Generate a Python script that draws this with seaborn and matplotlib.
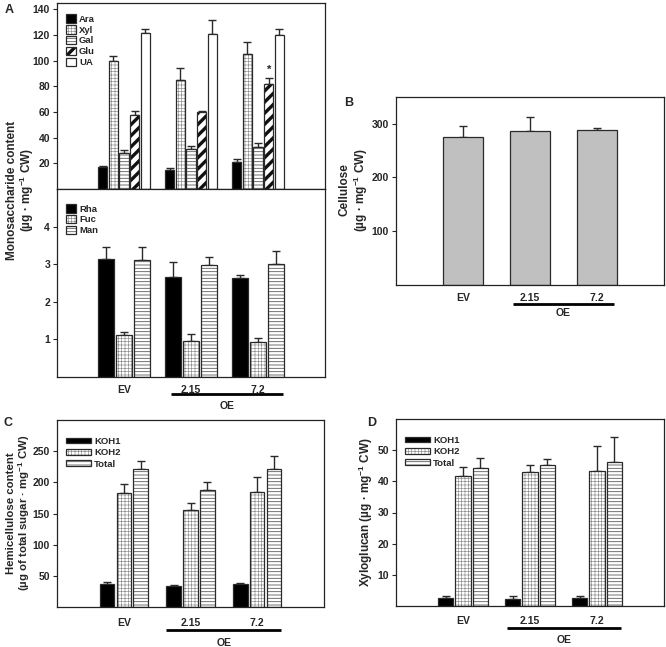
import numpy as np
import pandas as pd
import matplotlib
matplotlib.use("Agg")
import matplotlib.pyplot as plt
import matplotlib.patches as mpatches
import matplotlib.transforms as mtrans
import matplotlib.colors as mcolors
import seaborn as sns

# ---------------- data ----------------
lines = ["EV", "2.15", "7.2"]

major_sugars = ["Ara", "Xyl", "Gal", "Glu", "UA"]
ara_mean = [16.9, 14.9, 21.0]
ara_err = [1.3, 1.3, 2.0]
xyl_mean = [99.5, 85.0, 105.4]
xyl_err = [4.3, 9.0, 9.2]
gal_mean = [27.7, 30.8, 32.8]
gal_err = [2.6, 2.8, 3.4]
glu_mean = [58.0, 60.3, 82.0]
glu_err = [3.0, 0.3, 4.7]
ua_mean = [121.3, 120.8, 120.0]
ua_err = [3.8, 10.7, 5.0]

minor_sugars = ["Rha", "Fuc", "Man"]
rha_mean = [3.15, 2.67, 2.63]
rha_err = [0.30, 0.38, 0.07]
fuc_mean = [1.11, 0.95, 0.92]
fuc_err = [0.09, 0.20, 0.12]
man_mean = [3.12, 2.97, 3.01]
man_err = [0.34, 0.21, 0.34]

cellulose_mean = [276, 286, 288]
cellulose_err = [20, 26, 5]

fractions = ["KOH1", "KOH2", "Total"]
hemi_koh1 = [37.5, 33.0, 37.0]
hemi_koh1_err = [2.5, 3.0, 2.0]
hemi_koh2 = [183, 155, 184]
hemi_koh2_err = [15, 12, 25]
hemi_total = [221, 188, 221]
hemi_total_err = [14, 12, 22]

xg_koh1 = [2.7, 2.2, 2.7]
xg_koh1_err = [0.5, 1.1, 0.4]
xg_koh2 = [41.6, 43.0, 43.3]
xg_koh2_err = [3.0, 2.2, 8.1]
xg_total = [44.4, 45.4, 46.1]
xg_total_err = [3.0, 1.7, 8.0]

# ---------------- style ----------------
sns.set_style("ticks")
plt.rcParams["font.family"] = ["Liberation Sans", "DejaVu Sans"]
plt.rcParams["font.weight"] = "bold"
plt.rcParams["axes.labelweight"] = "bold"
plt.rcParams["mathtext.fontset"] = "custom"
plt.rcParams["mathtext.rm"] = "Liberation Sans:bold"
plt.rcParams["mathtext.bf"] = "Liberation Sans:bold"
plt.rcParams["hatch.linewidth"] = 0.5
plt.rcParams["axes.linewidth"] = 0.9
plt.rcParams["axes.edgecolor"] = "#222222"

EDGE = "#2a2a2a"
TICK_FS = 7.5
LAB_FS = 8.5

styles = {
    "black": dict(fc="black", hatch=None, hlw=None, hc=None),
    "dots": dict(fc="white", hatch="+++++", hlw=0.45, hc="#8a8a8a"),
    "hlines": dict(fc="white", hatch="-----", hlw=0.6, hc="#5a5a5a"),
    "diag": dict(fc="white", hatch="///", hlw=2.4, hc="#111111"),
    "white": dict(fc="white", hatch=None, hlw=None, hc=None),
}


def apply_hatch(p, s):
    if not s["hatch"]:
        return
    p.set_hatch(s["hatch"])
    if s["hlw"] is not None and hasattr(p, "set_hatch_linewidth"):
        p.set_hatch_linewidth(s["hlw"])
    if s["hc"] is not None:
        if hasattr(p, "set_hatchcolor"):
            p.set_hatchcolor(s["hc"])
        else:
            p._hatch_color = mcolors.to_rgba(s["hc"])


def style_bar(b, st):
    s = styles[st]
    b.set_facecolor(s["fc"])
    b.set_edgecolor(EDGE)
    b.set_linewidth(0.9)
    apply_hatch(b, s)


def add_err(ax, container, errs):
    xs = [b.get_x() + b.get_width() / 2 for b in container]
    ys = [b.get_height() for b in container]
    ax.errorbar(xs, ys, yerr=[np.zeros(len(errs)), errs], fmt="none",
                ecolor=EDGE, elinewidth=1.0, capsize=2.8, capthick=1.0,
                zorder=1)


def grouped(ax, names, means, errs, sty, width, gap):
    df = pd.DataFrame({
        "line": np.repeat([lines], len(names), axis=0).ravel(),
        "group": np.repeat(names, len(lines)),
        "value": np.concatenate(means),
    })
    sns.barplot(data=df, x="line", y="value", hue="group", order=lines,
                hue_order=names, width=width, gap=gap, errorbar=None,
                palette=["white"] * len(names), legend=False, ax=ax,
                zorder=2)
    for cont, st, er in zip(ax.containers, sty, errs):
        for b in cont:
            style_bar(b, st)
        add_err(ax, cont, er)


def legend(ax, names, sty, hl, hh, bbox, fs=6.8, spacing=0.25):
    hs = []
    for n, st in zip(names, sty):
        s = styles[st]
        p = mpatches.Patch(facecolor=s["fc"], edgecolor=EDGE,
                           linewidth=0.9, label=n)
        apply_hatch(p, s)
        hs.append(p)
    lg = ax.legend(handles=hs, loc="upper left", bbox_to_anchor=bbox,
                   frameon=False, handlelength=hl, handleheight=hh,
                   handletextpad=0.35, labelspacing=spacing,
                   prop=dict(size=fs, weight="bold"), borderaxespad=0)
    for h, st in zip(lg.legend_handles, sty):
        apply_hatch(h, styles[st])
    return lg


def common(ax, ylim, yticks):
    ax.set_xlim(-1, 3)
    ax.set_ylim(*ylim)
    ax.set_yticks(yticks)
    ax.set_yticklabels([str(t) for t in yticks], fontsize=TICK_FS,
                       fontweight="bold")
    ax.tick_params(axis="y", direction="out", length=3, width=0.8, pad=2)
    ax.tick_params(axis="x", length=0)
    ax.set_xlabel("")
    ax.set_ylabel("")
    for sp in ax.spines.values():
        sp.set_visible(True)
        sp.set_color("#222222")


def xlabels(ax, pad, line_y, x0, x1, oe_y):
    ax.set_xticks([0, 1, 2])
    ax.set_xticklabels(lines, fontsize=TICK_FS, fontweight="bold")
    ax.tick_params(axis="x", length=0, pad=pad)
    tr = mtrans.blended_transform_factory(ax.transData, ax.transAxes)
    ax.plot([x0, x1], [line_y, line_y], color="black", lw=2.0,
            transform=tr, clip_on=False, solid_capstyle="butt")
    ax.text((x0 + x1) / 2 + 0.0, oe_y, "OE", transform=tr, ha="center",
            va="center", fontsize=TICK_FS, fontweight="bold")


fig = plt.figure(figsize=(6.66, 6.47), dpi=100)
W, H = 666.0, 647.0


def axes_px(l, t, r, b):
    return fig.add_axes([l / W, 1 - b / H, (r - l) / W, (b - t) / H])


# ---------------- Panel A ----------------
axA1 = axes_px(57, 3, 325, 189)
axA2 = axes_px(57, 189, 325, 377)

grouped(axA1, major_sugars,
        [ara_mean, xyl_mean, gal_mean, glu_mean, ua_mean],
        [ara_err, xyl_err, gal_err, glu_err, ua_err],
        ["black", "dots", "hlines", "diag", "white"], 0.8, 0.15)
common(axA1, (0, 145), [20, 40, 60, 80, 100, 120, 140])
axA1.set_xticks([])
legend(axA1, major_sugars, ["black", "dots", "hlines", "diag", "white"],
       1.0, 1.0, (0.02, 0.96), fs=6.8, spacing=0.15)
# significance star above 7.2 Glu
glu_cont = axA1.containers[3]
b = glu_cont[2]
axA1.text(b.get_x() + b.get_width() / 2, glu_mean[2] + glu_err[2] + 2.0,
          "*", ha="center", va="bottom", fontsize=8, fontweight="bold")

grouped(axA2, minor_sugars, [rha_mean, fuc_mean, man_mean],
        [rha_err, fuc_err, man_err], ["black", "dots", "hlines"], 0.8, 0.12)
common(axA2, (0, 5), [1, 2, 3, 4])
legend(axA2, minor_sugars, ["black", "dots", "hlines"], 1.0, 1.0,
       (0.02, 0.94), fs=6.8, spacing=0.15)
xlabels(axA2, 6, -0.092, 0.70, 2.38, -0.152)

fig.text(12 / W, 1 - 190 / H, "Monosaccharide content", rotation=90,
         ha="center", va="center", fontsize=LAB_FS, fontweight="bold")
fig.text(27 / W, 1 - 190 / H, r"(µg · mg$^{-1}$ CW)", rotation=90,
         ha="center", va="center", fontsize=LAB_FS, fontweight="bold")
fig.text(5 / W, 1 - 10 / H, "A", ha="left", va="center", fontsize=9,
         fontweight="bold")

# ---------------- Panel B ----------------
axB = axes_px(396, 97, 664, 284.5)
dfB = pd.DataFrame({"line": lines, "value": cellulose_mean})
sns.barplot(data=dfB, x="line", y="value", order=lines, color="#c0c0c0",
            width=0.6, errorbar=None, ax=axB, zorder=2)
for b in axB.containers[0]:
    b.set_facecolor("#c0c0c0")
    b.set_edgecolor(EDGE)
    b.set_linewidth(0.9)
add_err(axB, axB.containers[0], cellulose_err)
common(axB, (0, 350), [100, 200, 300])
xlabels(axB, 6, -0.104, 0.75, 2.25, -0.153)
fig.text(345 / W, 1 - 190 / H, "Cellulose", rotation=90, ha="center",
         va="center", fontsize=LAB_FS, fontweight="bold")
fig.text(361 / W, 1 - 190 / H, r"(µg · mg$^{-1}$ CW)", rotation=90,
         ha="center", va="center", fontsize=LAB_FS, fontweight="bold")
fig.text(349 / W, 1 - 103 / H, "B", ha="center", va="center", fontsize=9,
         fontweight="bold")

# ---------------- Panel C ----------------
axC = axes_px(57, 420, 324, 607)
grouped(axC, fractions, [hemi_koh1, hemi_koh2, hemi_total],
        [hemi_koh1_err, hemi_koh2_err, hemi_total_err],
        ["black", "dots", "hlines"], 0.76, 0.15)
common(axC, (0, 300), [50, 100, 150, 200, 250])
legend(axC, fractions, ["black", "dots", "hlines"], 2.6, 0.55,
       (0.02, 0.93), fs=6.8, spacing=0.25)
xlabels(axC, 8, -0.123, 0.64, 2.36, -0.192)
fig.text(11 / W, 1 - 513 / H, "Hemicellulose content", rotation=90,
         ha="center", va="center", fontsize=8.2, fontweight="bold")
fig.text(24.5 / W, 1 - 513 / H, r"(µg of total sugar · mg$^{-1}$ CW)",
         rotation=90, ha="center", va="center", fontsize=8.2,
         fontweight="bold")
fig.text(8 / W, 1 - 423 / H, "C", ha="center", va="center", fontsize=9,
         fontweight="bold")

# ---------------- Panel D ----------------
axD = axes_px(396, 419, 664, 606)
grouped(axD, fractions, [xg_koh1, xg_koh2, xg_total],
        [xg_koh1_err, xg_koh2_err, xg_total_err],
        ["black", "dots", "hlines"], 0.78, 0.12)
common(axD, (0, 60), [10, 20, 30, 40, 50])
legend(axD, fractions, ["black", "dots", "hlines"], 2.6, 0.55,
       (0.02, 0.93), fs=6.8, spacing=0.25)
xlabels(axD, 7, -0.118, 0.66, 2.36, -0.182)
fig.text(366 / W, 1 - 512 / H, r"Xyloglucan (µg · mg$^{-1}$ CW)",
         rotation=90, ha="center", va="center", fontsize=LAB_FS,
         fontweight="bold")
fig.text(372 / W, 1 - 423 / H, "D", ha="center", va="center", fontsize=9,
         fontweight="bold")

fig.savefig("out.png", dpi=100, facecolor="white")
